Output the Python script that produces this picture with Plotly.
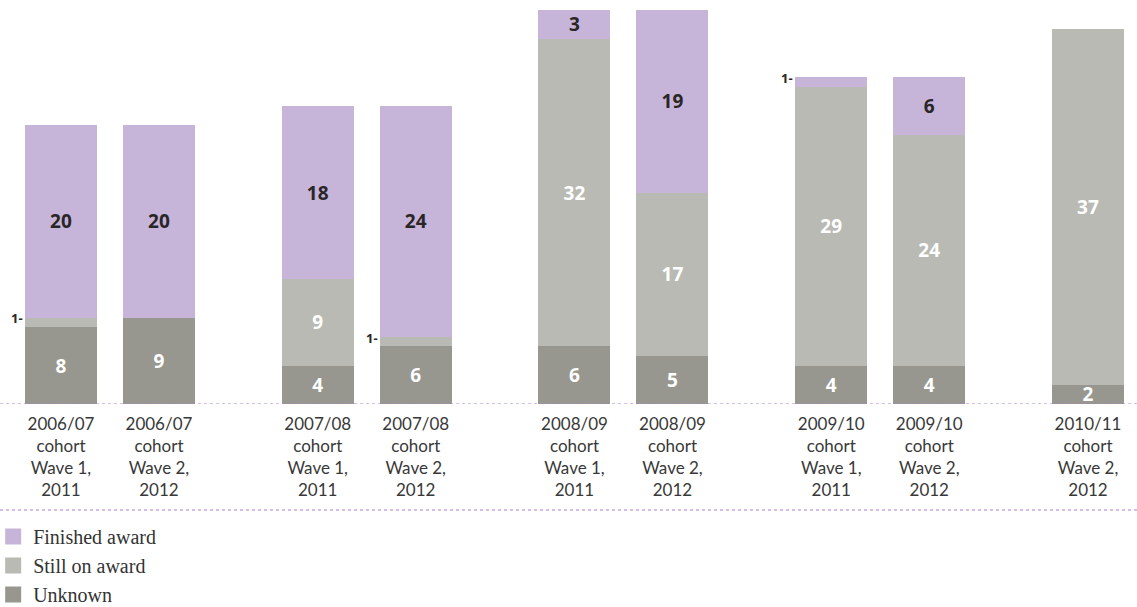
import plotly.graph_objects as go

# Cohort / wave categories
cohorts = ["2006/07", "2006/07", "2007/08", "2007/08", "2008/09", "2008/09",
           "2009/10", "2009/10", "2010/11"]
waves = ["Wave 1,<br>2011", "Wave 2,<br>2012", "Wave 1,<br>2011", "Wave 2,<br>2012",
         "Wave 1,<br>2011", "Wave 2,<br>2012", "Wave 1,<br>2011", "Wave 2,<br>2012",
         "Wave 2,<br>2012"]
group_index = [0, 0, 1, 1, 2, 2, 3, 3, 4]
slot_index = [0, 1, 0, 1, 0, 1, 0, 1, 0]

# Series values (counts)
unknown = [8, 9, 4, 6, 6, 5, 4, 4, 2]
still_on_award = [1, 0, 9, 1, 32, 17, 29, 24, 37]
finished_award = [20, 20, 18, 24, 3, 19, 1, 6, 0]

C_FIN = "#c6b4d9"
C_STILL = "#b9bab3"
C_UNK = "#979790"
DOT = "#a67fcf"

GROUP_PITCH = 2.62
BAR_W = 0.735
xpos = [g * GROUP_PITCH + s for g, s in zip(group_index, slot_index)]
ticktext = [f"{c}<br>cohort<br>{w}" for c, w in zip(cohorts, waves)]


def labels(vals):
    return [str(v) if v > 1 else "" for v in vals]


fig = go.Figure()
series = [
    ("Unknown", unknown, C_UNK, "white"),
    ("Still on award", still_on_award, C_STILL, "white"),
    ("Finished award", finished_award, C_FIN, "#2a2627"),
]
for name, vals, col, tcol in series:
    fig.add_trace(go.Bar(
        x=xpos, y=vals, width=BAR_W, name=name, marker_color=col,
        marker_line_width=0, text=labels(vals), textposition="inside",
        insidetextanchor="middle", textangle=0, constraintext="none",
        textfont=dict(family="Open Sans", size=19, color=tcol, weight="bold"),
        showlegend=False, hoverinfo="skip",
    ))

# Legend entries as square markers
for name, col in [("Finished award", C_FIN), ("Still on award", C_STILL), ("Unknown", C_UNK)]:
    fig.add_trace(go.Scatter(
        x=[None], y=[None], mode="markers", name=name,
        marker=dict(symbol="square", size=16, color=col),
    ))

# Small "1" segments labelled to the left of the bar
base = [0] * len(xpos)
for vals in (unknown, still_on_award, finished_award):
    for i, v in enumerate(vals):
        if v == 1:
            fig.add_annotation(
                x=xpos[i] - BAR_W / 2, y=base[i] + v / 2 + 0.4, text="<b>1-</b>",
                showarrow=False, xanchor="right", yanchor="middle",
                font=dict(family="Open Sans", size=13, color="#2a2627"),
            )
    base = [b + v for b, v in zip(base, vals)]

# Dotted baseline and separator under the axis labels
fig.add_shape(type="line", xref="paper", yref="y", x0=0, x1=1, y0=0, y1=0,
              line=dict(color=DOT, width=1, dash="dot"))
fig.add_shape(type="line", xref="paper", yref="paper", x0=0, x1=1, y0=-0.269, y1=-0.269,
              line=dict(color=DOT, width=1, dash="dot"))

fig.update_layout(
    width=1137, height=607,
    margin=dict(l=0, r=0, t=10, b=203, autoexpand=False),
    barmode="stack",
    plot_bgcolor="white", paper_bgcolor="white",
    xaxis=dict(range=[-0.622, 10.98], tickvals=xpos, ticktext=ticktext,
               showgrid=False, zeroline=False, showline=False, ticks="",
               ticklabelstandoff=8, automargin=False,
               tickfont=dict(family="Lato", size=17, color="#383838")),
    yaxis=dict(range=[0, 41], visible=False, showgrid=False, zeroline=False),
    legend=dict(orientation="v", x=-0.006, xanchor="left", y=-0.287, yanchor="top",
                traceorder="normal",
                font=dict(family="Liberation Serif", size=20, color="#333333"),
                itemsizing="trace", tracegroupgap=0, bgcolor="rgba(0,0,0,0)"),
    showlegend=True,
)

fig.write_html("out.html")
